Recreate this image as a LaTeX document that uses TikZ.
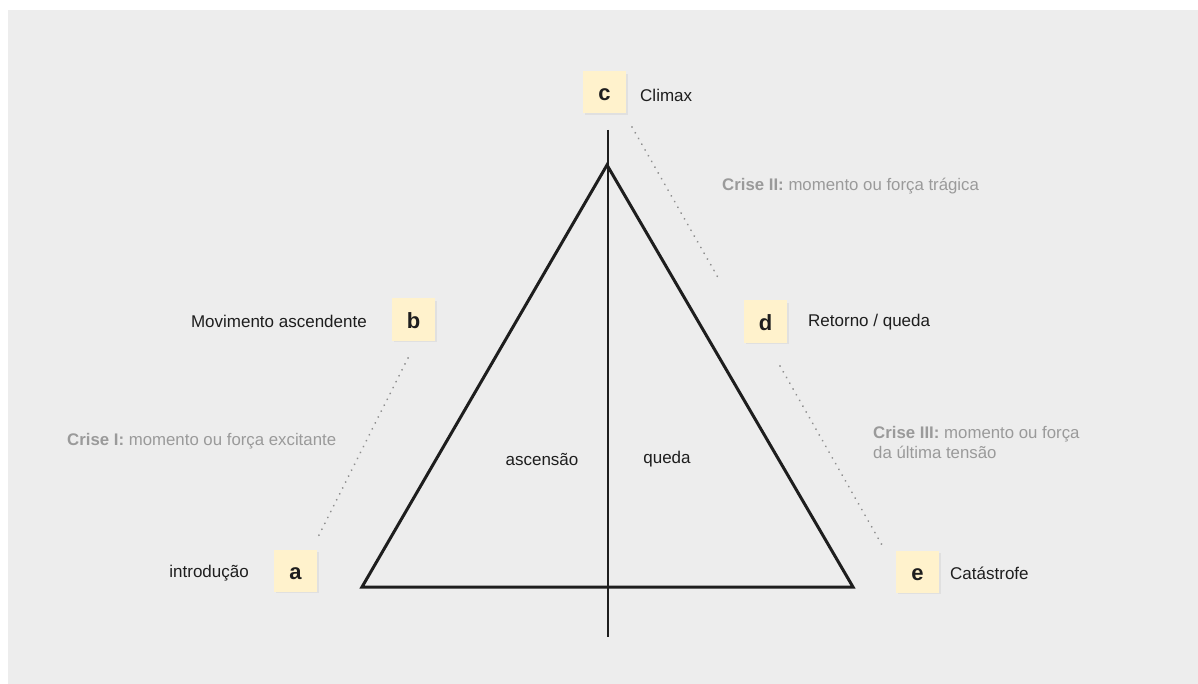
\documentclass[tikz,border=0pt]{standalone}
\usepackage{fontspec}
\setmainfont{Liberation Sans}
\definecolor{panel}{HTML}{EDEDED}
\definecolor{boxfill}{HTML}{FFF2CC}
\definecolor{ink}{HTML}{1E1E1E}
\definecolor{greytext}{HTML}{9A9A9A}
\definecolor{dotcol}{HTML}{8E8E8E}
\begin{document}
\begin{tikzpicture}[x=1pt,y=-1pt,
  letterbox/.style={fill=boxfill,minimum width=43pt,minimum height=42pt,inner sep=0pt,
    text height=17pt,text depth=0pt,
    font=\fontsize{22}{24}\selectfont\bfseries,text=ink},
  lbl/.style={font=\fontsize{17}{20}\selectfont,text=ink,inner sep=0pt},
  crise/.style={font=\fontsize{16.8}{20.5}\selectfont,text=greytext,inner sep=0pt,align=left},
  dots/.style={dotcol,line width=2pt,dash pattern=on 0.01pt off 6.6pt,line cap=round},
  tri/.style={ink,line width=3pt,line join=miter},
  axis/.style={ink,line width=2pt}]
\useasboundingbox (0,0) rectangle (1198,684);
\fill[white] (0,0) rectangle (1198,684);
\fill[panel] (8,10) rectangle (1198,684);
% shadows
\foreach \cx/\cy in {605/93,414/320,296/571,766/322,918/572}
  \fill[black!12] (\cx-20.5,\cy-19) rectangle (\cx+22.5,\cy+22);
% triangle and axis
\coordinate (top) at (608,130);
\coordinate (bot) at (608,637);
\draw[axis] (top) -- (bot);
\coordinate (A) at (362,587);
\coordinate (C) at (607,165);
\coordinate (E) at (853,587);
\draw[tri] (A) -- (C) -- (E) -- cycle;
% boxes
\node[letterbox] (c) at (604.5,92.5) {c};
\node[letterbox] (b) at (413.5,319.5) {b};
\node[letterbox] (a) at (295.5,570.5) {a};
\node[letterbox] (d) at (765.5,321.5) {d};
\node[letterbox] (e) at (917.5,571.5) {e};
% labels
\node[lbl,anchor=west] (lc) at (640,95) {Climax};
\node[lbl,anchor=east] (lb) at (367,321) {Movimento ascendente};
\node[lbl,anchor=east] (la) at (249,573) {introdução};
\node[lbl,anchor=west] (ld) at (808,322) {Retorno / queda};
\node[lbl,anchor=west] (le) at (950,573) {Catástrofe};
\node[lbl] (asc) at (542,459) {ascensão};
\node[lbl] (qd) at (667,459) {queda};
\node[crise,anchor=west] (c2) at (722,186) {\textbf{Crise II:} momento ou força trágica};
\node[crise,anchor=west] (c1) at (67,441) {\textbf{Crise I:} momento ou força excitante};
\node[crise,anchor=north west] (c3) at (873,426) {\textbf{Crise III:} momento ou força\\da última tensão};
% dotted connectors
\coordinate (cd1) at (632,127);
\coordinate (cd2) at (720,281);
\coordinate (ba1) at (408,358);
\coordinate (ba2) at (318,537);
\coordinate (de1) at (780,366);
\coordinate (de2) at (882,545);
\draw[dots] (cd1) -- (cd2);
\draw[dots] (ba1) -- (ba2);
\draw[dots] (de1) -- (de2);
\end{tikzpicture}
\end{document}
